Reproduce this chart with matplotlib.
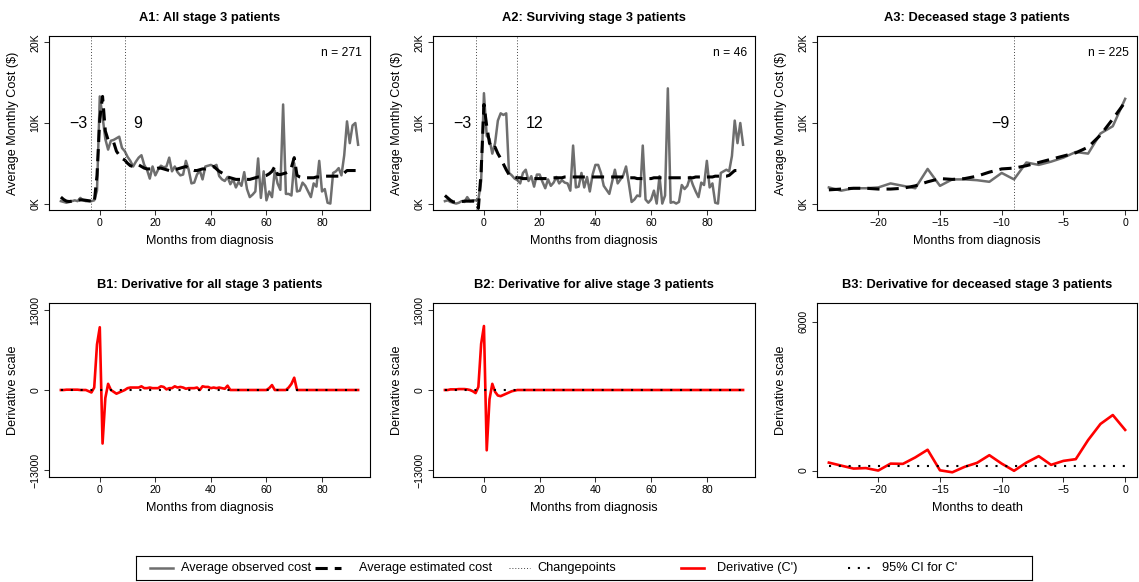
import numpy as np
import matplotlib
matplotlib.use("Agg")
import matplotlib.pyplot as plt

plt.rcParams['font.family'] = ['Liberation Sans', 'DejaVu Sans']

W, H = 1139, 582
GRAY = '#6e6e6e'

# months on the x axis
months_dx = np.arange(-14, 94)      # months from diagnosis
months_death = np.arange(-24, 1)    # months before death

# A1: all stage 3 patients ($K per month)
a1_observed = [
    0.3, 0.2, 0.1, 0.2, 0.3, 0.4, 0.3, 0.7, 0.4, 0.3,
    0.3, 0.3, 0.4, 1.6, 13.3, 10.8, 8.0, 6.7, 7.8, 7.9,
    8.1, 8.3, 6.9, 6.5, 5.8, 5.3, 4.6, 5.2, 5.7, 6.0,
    4.8, 4.2, 3.1, 4.6, 3.5, 4.2, 4.7, 4.5, 4.6, 5.7,
    4.0, 4.6, 3.9, 3.5, 3.6, 5.3, 4.2, 2.5, 2.6, 3.6,
    4.1, 3.0, 4.6, 4.7, 4.8, 4.6, 4.8, 3.4, 3.0, 2.8,
    3.3, 2.4, 3.0, 2.0, 2.7, 2.2, 3.9, 1.8, 0.8, 1.1,
    1.5, 5.6, 0.7, 4.0, 0.4, 1.5, 0.8, 4.1, 2.5, 1.7,
    12.3, 1.2, 1.2, 1.0, 5.0, 1.5, 1.6, 2.6, 2.2, 1.5,
    0.8, 2.5, 2.1, 5.3, 1.5, 1.8, 0.1, 0.0, 3.8, 4.0,
    4.4, 3.5, 6.0, 10.2, 7.5, 9.7, 10.0, 7.3,
]
a1_estimated = [
    0.8, 0.5, 0.3, 0.25, 0.3, 0.35, 0.4, 0.45, 0.45, 0.4,
    0.35, 0.3, 0.1, 3.5, 10.5, 13.3, 9.0, 7.9, 7.8, 7.6,
    6.5, 6.0, 5.6, 5.4, 5.0, 4.7, 4.6, 4.6, 4.8, 4.6,
    4.4, 4.3, 4.3, 4.3, 4.3, 4.4, 4.4, 4.3, 4.2, 4.1,
    4.1, 4.2, 4.3, 4.4, 4.5, 4.6, 4.4, 4.2, 4.1, 4.1,
    4.2, 4.3, 4.3, 4.4, 4.5, 4.6, 4.3, 4.0, 3.8, 3.6,
    3.3, 3.2, 3.1, 3.0, 3.0, 3.0, 3.0, 3.0, 3.0, 3.1,
    3.2, 3.3, 3.3, 3.4, 3.5, 3.7, 4.0, 4.6, 3.6, 3.6,
    3.7, 3.8, 4.0, 4.5, 5.7, 3.5, 3.3, 3.2, 3.2, 3.2,
    3.2, 3.2, 3.3, 3.3, 3.3, 3.4, 3.4, 3.4, 3.4, 3.4,
    3.4, 3.5, 3.8, 4.1, 4.1, 4.1, 4.1, 4.1,
]
a1_changepoints = [-3, 9]
a1_n = 271

# A2: surviving stage 3 patients ($K per month)
a2_observed = [
    0.3, 0.4, 0.2, 0.1, 0.0, 0.1, 0.3, 0.2, 0.8, 0.3,
    0.4, 0.4, 0.5, 2.8, 13.7, 8.4, 8.0, 6.2, 7.5, 10.3,
    11.2, 11.0, 11.2, 3.8, 3.5, 3.1, 2.9, 2.5, 3.8, 4.2,
    2.8, 3.4, 2.1, 3.6, 3.6, 2.7, 1.9, 3.0, 2.2, 2.6,
    3.3, 2.5, 2.9, 2.6, 2.5, 1.6, 7.2, 2.0, 2.1, 3.8,
    2.0, 3.3, 1.5, 3.6, 4.8, 4.8, 3.8, 2.2, 1.7, 1.2,
    2.7, 4.2, 2.5, 3.0, 3.5, 4.6, 2.5, 0.2, 0.5, 1.0,
    0.9, 7.2, 0.5, 0.1, 0.5, 1.6, 0.0, 3.4, 0.0, 1.0,
    14.3, 0.1, 0.2, 0.0, 0.2, 2.3, 1.8, 2.2, 3.3, 2.3,
    1.5, 0.8, 2.6, 2.3, 5.3, 2.0, 2.5, 0.1, 0.0, 3.8,
    4.0, 4.2, 4.0, 5.9, 10.3, 7.5, 10.0, 7.3,
]
a2_estimated = [
    1.0, 0.7, 0.4, 0.2, 0.2, 0.2, 0.25, 0.3, 0.3, 0.3,
    0.3, 0.3, -0.6, 4.0, 12.3, 9.6, 7.5, 6.8, 7.0, 6.2,
    5.6, 4.9, 4.2, 3.6, 3.4, 3.3, 3.2,
    3.2, 3.1, 3.1, 3.1, 3.1, 3.1, 3.1, 3.1, 3.1, 3.1,
    3.1, 3.2, 3.2, 3.2, 3.2, 3.2, 3.3, 3.3, 3.3, 3.3,
    3.3, 3.3, 3.3, 3.3, 3.3, 3.3, 3.3, 3.3, 3.3, 3.3,
    3.3, 3.3, 3.3, 3.3, 3.3, 3.3, 3.3, 3.3, 3.3, 3.2,
    3.2, 3.2, 3.1, 3.1, 3.1, 3.1, 3.1, 3.1, 3.2, 3.2,
    3.2, 3.2, 3.2, 3.2, 3.2, 3.2, 3.2, 3.2, 3.2, 3.2,
    3.2, 3.2, 3.2, 3.3, 3.3, 3.3, 3.3, 3.3, 3.3, 3.3,
    3.4, 3.4, 3.4, 3.4, 3.4, 3.5, 3.8, 4.1, 4.1, 4.1,
    4.1,
]
a2_changepoints = [-3, 12]
a2_n = 46

# A3: deceased stage 3 patients ($K per month)
a3_observed = [
    2.0, 1.6, 1.9, 1.9, 2.0, 2.5, 2.2, 1.9, 4.3, 2.2,
    3.0, 3.0, 2.9, 2.7, 3.8, 3.0, 5.1, 4.8, 5.2, 5.7,
    6.4, 6.2, 8.7, 9.6, 13.0,
]
a3_estimated = [
    1.7, 1.8, 1.9, 1.9, 1.8, 1.8, 1.9, 2.2, 2.7, 3.1,
    3.0, 3.1, 3.4, 3.9, 4.3, 4.4, 4.7, 5.1, 5.5, 5.9,
    6.3, 7.0, 8.5, 10.5, 12.6,
]
a3_changepoints = [-9]
a3_n = 225

# B panels: derivative C' ($K per month)
b1_deriv = [
    0.0, 0.0, 0.05, 0.05, 0.05, 0.05, 0.05, 0.0, 0.0, 0.0,
    -0.2, -0.4, 0.4, 7.4, 10.2, -8.7, -1.3, 1.0, 0.0, -0.3,
    -0.6, -0.4, -0.2, 0.0, 0.3, 0.4, 0.4, 0.4, 0.4, 0.6,
    0.3, 0.3, 0.4, 0.3, 0.3, 0.3, 0.6, 0.5, 0.1, 0.3,
    0.3, 0.6, 0.4, 0.5, 0.4, 0.2, 0.3, 0.3, 0.3, 0.4,
    0.0, 0.6, 0.5, 0.5, 0.3, 0.4, 0.3, 0.4, 0.3, 0.2,
    0.7, 0.0, 0.0, 0.0, 0.0, 0.0, 0.0, 0.0, 0.0, 0.0,
    0.0, 0.0, 0.0, 0.0, 0.0, 0.3, 0.8, 0.0, 0.0, 0.0,
    0.0, 0.0, 0.4, 1.0, 2.0, 0.0, 0.0, 0.0, 0.0, 0.0,
    0.0, 0.0, 0.0, 0.0, 0.0, 0.0, 0.0, 0.0, 0.0, 0.0,
    0.0, 0.0, 0.0, 0.0, 0.0, 0.0, 0.0, 0.0,
]
b2_deriv = [
    0.0, 0.0, 0.1, 0.1, 0.1, 0.15, 0.15, 0.15, 0.1, 0.0,
    -0.2, -0.5, 0.5, 7.5, 10.4, -9.8, -1.5, 1.0, -0.3, -0.9,
    -1.0, -0.8, -0.6, -0.4, -0.2, -0.1, 0.0, 0.0, 0.0, 0.0,
] + [0.0] * 78
b3_deriv = [
    0.32, 0.2, 0.08, 0.1, 0.0, 0.28, 0.27, 0.53, 0.84, 0.01,
    -0.07, 0.15, 0.31, 0.62, 0.28, -0.01, 0.32, 0.58, 0.23, 0.39,
    0.46, 1.23, 1.88, 2.24, 1.64,
]
b1_ci = 0.0
b2_ci = 0.0
b3_ci = 0.18

CI_DASHES = (1.0, 3.7)


def style_axes(ax, xlim, xticks, ylim, yticks, yticklabels):
    ax.set_xlim(*xlim)
    ax.set_ylim(*ylim)
    ax.set_xticks(xticks)
    ax.set_xticklabels([str(t).replace('-', '\u2212') for t in xticks])
    ax.set_yticks(yticks)
    ax.set_yticklabels(yticklabels, rotation=90, va='center')
    ax.tick_params(direction='out', length=3.6, width=0.75, labelsize=7.6,
                   pad=2.5, color='#333333')
    for sp in ax.spines.values():
        sp.set_linewidth(0.8)


def cost_panel(ax, x, obs, est, cps, n, title, xlim, xticks):
    ax.plot(x, np.array(obs) * 1000, color=GRAY, lw=1.8, solid_joinstyle='round')
    ax.plot(x, np.array(est) * 1000, color='black', lw=2.2, dashes=(4, 2.3),
            dash_capstyle='butt')
    for i, cp in enumerate(cps):
        ax.axvline(cp, color='#444444', lw=0.7, ls=(0, (1, 2)))
        label = str(cp).replace('-', '\u2212')
        if i == 0:
            ax.annotate(label, (cp, 10000), xytext=(-3, 0), textcoords='offset points',
                        ha='right', va='center', fontsize=11.5)
        else:
            ax.annotate(label, (cp, 10000), xytext=(6, 0), textcoords='offset points',
                        ha='left', va='center', fontsize=11.5)
    ax.text(0.975, 0.9, f"n = {n}", transform=ax.transAxes, ha='right',
            va='center', fontsize=8.7)
    style_axes(ax, xlim, xticks, (-800, 20800), [0, 10000, 20000],
               ['0K', '10K', '20K'])
    ax.set_title(title, fontsize=9.3, fontweight='bold', pad=11)
    ax.set_xlabel('Months from diagnosis', fontsize=9.1, labelpad=5)
    ax.set_ylabel('Average Monthly Cost ($)', fontsize=9.1, labelpad=8)


def deriv_panel(ax, x, deriv, ci, title, xlim, xticks, ylim, yticks, xlabel):
    ax.plot(x, np.array(deriv) * 1000, color='red', lw=1.9, solid_joinstyle='round')
    ax.plot(x, np.full(len(x), ci * 1000), color='black', lw=1.5,
            dashes=CI_DASHES, dash_capstyle='butt')
    style_axes(ax, xlim, xticks, ylim, yticks,
               [str(t).replace('-', '\u2212') for t in yticks])
    ax.set_title(title, fontsize=9.3, fontweight='bold', pad=11)
    ax.set_xlabel(xlabel, fontsize=9.1, labelpad=5)
    ax.set_ylabel('Derivative scale', fontsize=9.1, labelpad=8)


fig = plt.figure(figsize=(W / 100, H / 100), dpi=100)

lefts = [49, 433, 817]
widths = [321, 322, 320]
top_bottom = 1 - 210 / H
bot_bottom = 1 - 477 / H
ax_h = 174 / H

xlim_dx = (-18.28, 97.28)
xlim_death = (-24.96, 0.96)
ticks_dx = [0, 20, 40, 60, 80]
ticks_death = [-20, -15, -10, -5, 0]

axA = [fig.add_axes([l / W, top_bottom, w / W, ax_h]) for l, w in zip(lefts, widths)]
axB = [fig.add_axes([l / W, bot_bottom, w / W, ax_h]) for l, w in zip(lefts, widths)]

cost_panel(axA[0], months_dx, a1_observed, a1_estimated, a1_changepoints, a1_n,
           'A1: All stage 3 patients', xlim_dx, ticks_dx)
cost_panel(axA[1], months_dx, a2_observed, a2_estimated, a2_changepoints, a2_n,
           'A2: Surviving stage 3 patients', xlim_dx, ticks_dx)
cost_panel(axA[2], months_death, a3_observed, a3_estimated, a3_changepoints, a3_n,
           'A3: Deceased stage 3 patients', xlim_death, ticks_death)

deriv_panel(axB[0], months_dx, b1_deriv, b1_ci, 'B1: Derivative for all stage 3 patients',
            xlim_dx, ticks_dx, (-14140, 14140), [-13000, 0, 13000], 'Months from diagnosis')
deriv_panel(axB[1], months_dx, b2_deriv, b2_ci, 'B2: Derivative for alive stage 3 patients',
            xlim_dx, ticks_dx, (-14140, 14140), [-13000, 0, 13000], 'Months from diagnosis')
deriv_panel(axB[2], months_death, b3_deriv, b3_ci, 'B3: Derivative for deceased stage 3 patients',
            xlim_death, ticks_death, (-260, 6760), [0, 6000], 'Months to death')

# legend box drawn in pixel coordinates of its own axes
lax = fig.add_axes([136 / W, 1 - 580 / H, 896 / W, 24 / H])
lax.set_xlim(136, 1032)
lax.set_ylim(580, 556)
lax.set_xticks([])
lax.set_yticks([])
for sp in lax.spines.values():
    sp.set_linewidth(0.8)

ly = 568
lax.plot([150, 173], [ly, ly], color=GRAY, lw=1.8)
lax.plot([315, 341], [ly, ly], color='black', lw=2.2, dashes=(4, 2.3), dash_capstyle='butt')
lax.plot([509, 530], [ly, ly], color='#444444', lw=0.7, ls=(0, (1, 2)))
lax.plot([681, 704], [ly, ly], color='red', lw=1.9)
lax.plot([848, 872], [ly, ly], color='black', lw=1.5, dashes=CI_DASHES, dash_capstyle='butt')
for xt, txt in [(181, 'Average observed cost'), (359, 'Average estimated cost'),
                (537, 'Changepoints'), (717, "Derivative (C')"), (882, "95% CI for C'")]:
    lax.text(xt, ly, txt, ha='left', va='center', fontsize=9.2)

fig.savefig('out.png', dpi=100)
